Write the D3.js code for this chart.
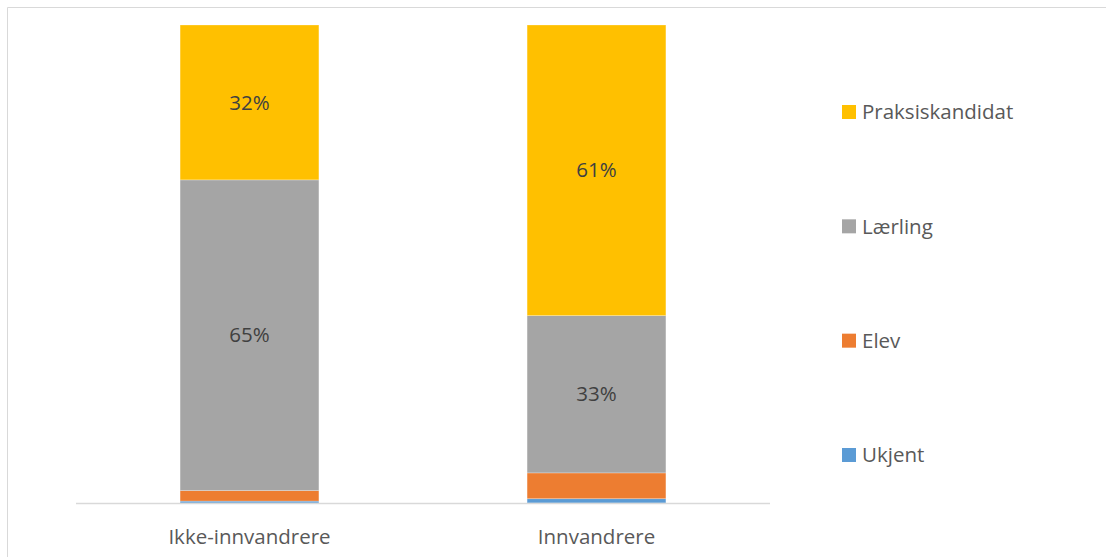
<!DOCTYPE html>
<html><head><meta charset="utf-8">
<script src="https://cdn.jsdelivr.net/npm/d3@7"></script>
<style>body{margin:0;background:#fff}svg{display:block}</style>
</head><body>
<svg id="c" width="1106" height="557"></svg>
<script>
const categories = ["Ikke-innvandrere", "Innvandrere"];
const seriesNames = ["Ukjent", "Elev", "Lærling", "Praksiskandidat"];
const ukjent = [0.4, 0.9];
const elev = [2.2, 5.4];
const laerling = [65.0, 32.9];
const praksis = [32.4, 60.8];
const colors = ["#5b9bd5", "#ed7d31", "#a5a5a5", "#ffc000"];

const svg = d3.select("#c");
const font = "'Open Sans', 'Liberation Sans', sans-serif";
const fs = 20.5;

// chart border
svg.append("path").attr("d", "M7.5,557 V7.5 H1106").attr("fill", "none").attr("stroke", "#d9d9d9").attr("stroke-width", 1);

const rows = categories.map((c, i) => ({cat: c, Ukjent: ukjent[i], Elev: elev[i], "Lærling": laerling[i], Praksiskandidat: praksis[i]}));
const stack = d3.stack().keys(seriesNames)(rows);

const x = d3.scaleBand().domain(categories).range([76, 770]).paddingInner(0.6).paddingOuter(0.3);
const y = d3.scaleLinear().domain([0, 100]).range([503, 25]);

const g = svg.append("g");
stack.forEach((s, si) => {
  g.selectAll(null).data(s).enter().append("rect")
    .attr("x", d => x(d.data.cat))
    .attr("width", x.bandwidth())
    .attr("y", d => y(d[1]))
    .attr("height", d => y(d[0]) - y(d[1]))
    .attr("fill", colors[si])
    .attr("stroke", "#fff").attr("stroke-opacity", 0.35).attr("stroke-width", 0.75);
  g.selectAll(null).data(s.filter(d => d[1] - d[0] > 10)).enter().append("text")
    .attr("x", d => x(d.data.cat) + x.bandwidth() / 2)
    .attr("y", d => (y(d[0]) + y(d[1])) / 2)
    .attr("dy", "0.35em")
    .attr("text-anchor", "middle")
    .attr("font-family", font).attr("font-size", fs).attr("fill", "#404040")
    .text(d => Math.round(d[1] - d[0]) + "%");
});

// axis
const ax = svg.append("g").attr("transform", "translate(0,503)")
  .call(d3.axisBottom(x).tickSize(0).tickPadding(26));
ax.select(".domain").attr("stroke", "#d9d9d9").attr("stroke-width", 1.5).attr("d", "M76,0.5H770");
ax.selectAll("text").attr("font-family", font).attr("font-size", fs).attr("fill", "#595959");

// legend
const legendOrder = ["Praksiskandidat", "Lærling", "Elev", "Ukjent"];
const ly = d3.scalePoint().domain(legendOrder).range([112, 455]);
const lg = svg.append("g");
legendOrder.forEach(n => {
  const ci = seriesNames.indexOf(n);
  lg.append("rect").attr("x", 842).attr("y", ly(n) - 7).attr("width", 14).attr("height", 14).attr("fill", colors[ci]);
  lg.append("text").attr("x", 862).attr("y", ly(n)).attr("dy", "0.35em")
    .attr("font-family", font).attr("font-size", fs).attr("fill", "#595959").text(n);
});
</script>
</body></html>
